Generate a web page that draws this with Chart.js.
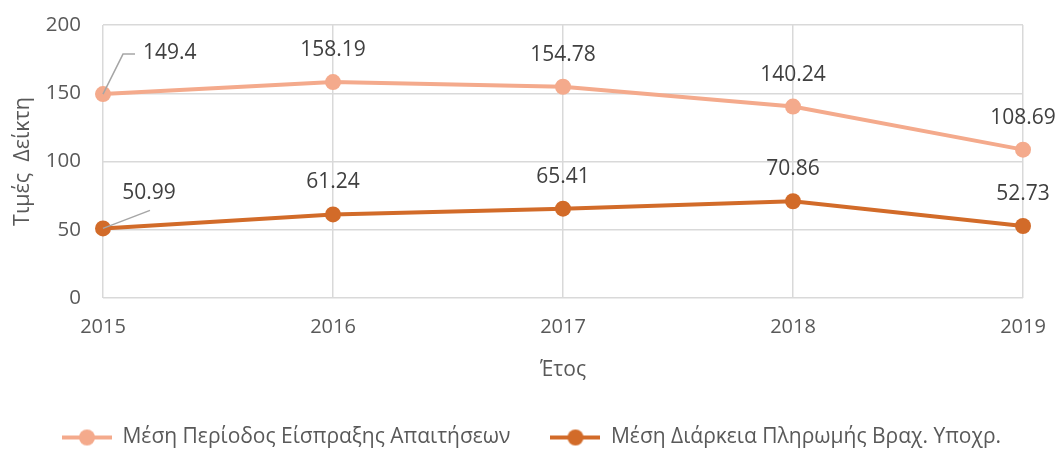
<!DOCTYPE html>
<html>
<head>
<meta charset="utf-8">
<script src="https://cdn.jsdelivr.net/npm/chart.js@4.4.1/dist/chart.umd.min.js"></script>
<style>
  html, body { margin: 0; padding: 0; background: #ffffff; }
  #wrap { width: 1059px; height: 451px; }
</style>
</head>
<body>
<div id="wrap"><canvas id="chart"></canvas></div>
<script>
// data
const years = ["2015", "2016", "2017", "2018", "2019"];
const collectionPeriod = [149.4, 158.19, 154.78, 140.24, 108.69];
const paymentPeriod = [50.99, 61.24, 65.41, 70.86, 52.73];
const yTicks = [0, 50, 100, 150, 200];

const LIGHT = "#F4AA8C";
const DARK = "#D26B29";
const TEXT = "#595959";
const GRID = "#D9D9D9";
const FONT = "'Open Sans', sans-serif";

// legend marker: short line with a dot in the middle
function legendMarker(color) {
  const c = document.createElement("canvas");
  c.width = 50;
  c.height = 18;
  const g = c.getContext("2d");
  g.strokeStyle = color;
  g.lineWidth = 4;
  g.beginPath();
  g.moveTo(0, 9);
  g.lineTo(50, 9);
  g.stroke();
  g.fillStyle = color;
  g.beginPath();
  g.arc(25, 9, 8, 0, Math.PI * 2);
  g.fill();
  return c;
}

/* ===============================
   LEGEND HEIGHT
================================ */

// the wide item gap also pads the legend top/bottom, so cap its height
const legendHeight = {
  id: "legendHeight",
  beforeLayout(chart) {
    const lg = chart.legend;
    if (!lg || lg._patched) return;
    const fit = lg.fit;
    lg.fit = function () {
      fit.call(this);
      this.height = 64;
    };
    lg._patched = true;
  },
  afterLayout(chart) {
    // nudge the legend row to the right like the original
    chart.legend.left += 20;
    chart.legend.right += 20;
  }
};

/* ===============================
   DATA LABELS
================================ */

const dataLabels = {
  id: "dataLabels",
  afterDatasetsDraw(chart) {
    const ctx = chart.ctx;
    ctx.save();
    ctx.font = `21px ${FONT}`;
    ctx.fillStyle = "#404040";
    ctx.textBaseline = "middle";

    chart.data.datasets.forEach((ds, di) => {
      const meta = chart.getDatasetMeta(di);
      meta.data.forEach((pt, i) => {
        const text = String(ds.data[i]);
        if (i === 0 && di === 0) {
          // callout to the upper right
          ctx.strokeStyle = "#A6A6A6";
          ctx.lineWidth = 1.5;
          ctx.beginPath();
          ctx.moveTo(pt.x, pt.y);
          ctx.lineTo(pt.x + 20, pt.y - 40);
          ctx.lineTo(pt.x + 32, pt.y - 40);
          ctx.stroke();
          ctx.textAlign = "left";
          ctx.fillText(text, pt.x + 40, pt.y - 41);
        } else if (i === 0 && di === 1) {
          ctx.strokeStyle = "#A6A6A6";
          ctx.lineWidth = 1.5;
          ctx.beginPath();
          ctx.moveTo(pt.x, pt.y);
          ctx.lineTo(pt.x + 47, pt.y - 18);
          ctx.stroke();
          ctx.textAlign = "center";
          ctx.fillText(text, pt.x + 46, pt.y - 35);
        } else {
          ctx.textAlign = "center";
          ctx.fillText(text, pt.x, pt.y - 32);
        }
      });
    });
    ctx.restore();
  }
};

const ctx = document.getElementById("chart");

new Chart(ctx, {
  type: "line",
  data: {
    labels: years,
    datasets: [
      {
        label: "Μέση Περίοδος Είσπραξης Απαιτήσεων",
        data: collectionPeriod,
        borderColor: LIGHT,
        backgroundColor: LIGHT,
        borderWidth: 4,
        pointRadius: 8,
        pointHoverRadius: 8,
        pointBackgroundColor: LIGHT,
        pointBorderWidth: 0,
        tension: 0
      },
      {
        label: "Μέση Διάρκεια Πληρωμής Βραχ. Υποχρ.",
        data: paymentPeriod,
        borderColor: DARK,
        backgroundColor: DARK,
        borderWidth: 4,
        pointRadius: 8,
        pointHoverRadius: 8,
        pointBackgroundColor: DARK,
        pointBorderWidth: 0,
        tension: 0
      }
    ]
  },
  options: {
    responsive: true,
    maintainAspectRatio: false,
    animation: false,
    layout: {
      padding: { top: 0, right: 36, bottom: 0, left: 0 }
    },
    scales: {
      x: {
        offset: false,
        grid: { color: GRID, lineWidth: 1.5, drawTicks: false },
        border: { display: false },
        ticks: {
          color: TEXT,
          font: { family: FONT, size: 20 },
          padding: 17,
          maxRotation: 0
        },
        title: {
          display: true,
          text: "Έτος",
          color: TEXT,
          font: { family: FONT, size: 21 },
          padding: { top: 4, bottom: 4 }
        },
        afterFit(scale) {
          scale.height = 89;
          scale.paddingLeft = 0;
          scale.paddingRight = 0;
        }
      },
      y: {
        min: 0,
        max: 200,
        afterBuildTicks(scale) {
          scale.ticks = yTicks.map(v => ({ value: v }));
        },
        grid: { color: GRID, lineWidth: 1.5, drawTicks: false },
        border: { display: false },
        ticks: {
          color: TEXT,
          font: { family: FONT, size: 20.5 },
          padding: 22
        },
        title: {
          display: true,
          text: "Τιμές  Δείκτη",
          color: TEXT,
          font: { family: FONT, size: 21.5 },
          padding: { top: 10, bottom: 4 }
        },
        afterFit(scale) {
          scale.width = 103;
          scale.paddingTop = 25;
          scale.paddingBottom = 0;
        }
      }
    },
    plugins: {
      legend: {
        position: "bottom",
        labels: {
          color: TEXT,
          font: { family: FONT, size: 21 },
          usePointStyle: true,
          pointStyleWidth: 50,
          padding: 40,
          generateLabels(chart) {
            return chart.data.datasets.map((ds, i) => ({
              text: ds.label,
              fillStyle: ds.borderColor,
              strokeStyle: ds.borderColor,
              fontColor: TEXT,
              pointStyle: legendMarker(ds.borderColor),
              hidden: !chart.isDatasetVisible(i),
              datasetIndex: i
            }));
          }
        }
      },
      tooltip: { enabled: false }
    }
  },
  plugins: [legendHeight, dataLabels]
});
</script>
</body>
</html>
